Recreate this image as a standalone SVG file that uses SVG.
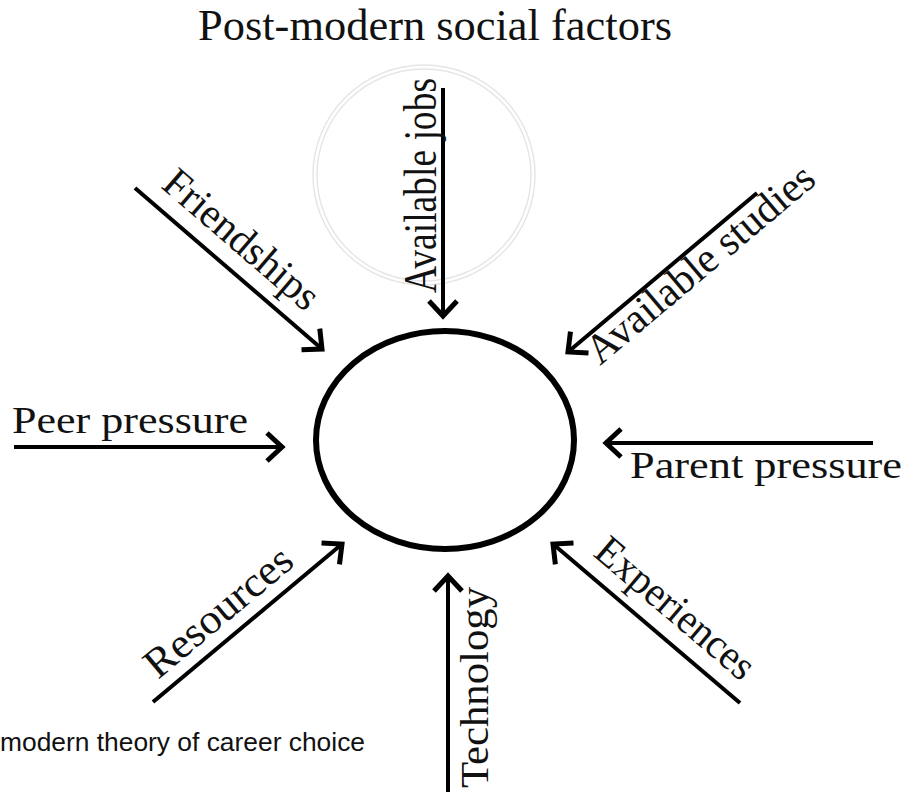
<svg xmlns="http://www.w3.org/2000/svg" width="907" height="792" viewBox="0 0 907 792">
<style>
.lbl{font-family:"Liberation Serif","Times New Roman",serif;fill:#111;}
.cap{font-family:"Liberation Sans",Arial,sans-serif;fill:#111;}
.con{stroke:#000;stroke-width:4;fill:none;marker-end:url(#chev);}
</style>
<defs>
<marker id="chev" markerUnits="userSpaceOnUse" viewBox="-24 -20 30 40" refX="0" refY="0" markerWidth="30" markerHeight="40" orient="auto" overflow="visible">
<path d="M-15,-14 L0,0 L-15,14" fill="none" stroke="#000" stroke-width="5" stroke-linejoin="miter"/>
</marker>
</defs>
<rect width="907" height="792" fill="#fff"/>
<g id="title"><text class="lbl" x="198" y="40" font-size="45" textLength="474" lengthAdjust="spacingAndGlyphs">Post-modern social factors</text></g>
<g id="faint-circle" fill="none" stroke="#e6e6e6" stroke-width="1.5">
<ellipse cx="424" cy="175" rx="111" ry="110"/>
<ellipse cx="424" cy="175" rx="107" ry="106"/>
</g>
<g id="center"><ellipse cx="445" cy="440" rx="129" ry="109" fill="none" stroke="#000" stroke-width="6"/></g>
<g id="connectors">
<line class="con" x1="443" y1="88" x2="443" y2="316"/>
<line class="con" x1="135" y1="188" x2="322" y2="349"/>
<line class="con" x1="757" y1="193" x2="568" y2="352"/>
<line class="con" x1="14" y1="447" x2="282" y2="447"/>
<line class="con" x1="873" y1="443" x2="606" y2="443"/>
<line class="con" x1="153" y1="702" x2="342" y2="544"/>
<line class="con" x1="740" y1="703" x2="553" y2="544"/>
<line class="con" x1="448" y1="800" x2="448" y2="576"/>
</g>
<g id="n-jobs"><text class="lbl" font-size="46" transform="translate(436,293) rotate(-90)" textLength="215" lengthAdjust="spacingAndGlyphs">Available jobs</text></g>
<g id="n-friend"><text class="lbl" font-size="42" transform="translate(160,187) rotate(40.75)" textLength="192" lengthAdjust="spacingAndGlyphs">Friendships</text></g>
<g id="n-studies"><text class="lbl" font-size="42" transform="translate(600,366) rotate(-40.1)" textLength="285" lengthAdjust="spacingAndGlyphs">Available studies</text></g>
<g id="n-peer"><text class="lbl" x="12" y="433" font-size="38" textLength="236" lengthAdjust="spacingAndGlyphs">Peer pressure</text></g>
<g id="n-parent"><text class="lbl" x="630" y="478" font-size="37" textLength="272" lengthAdjust="spacingAndGlyphs">Parent pressure</text></g>
<g id="n-res"><text class="lbl" font-size="42" transform="translate(158,680) rotate(-39.9)" textLength="180" lengthAdjust="spacingAndGlyphs">Resources</text></g>
<g id="n-exp"><text class="lbl" font-size="42" transform="translate(592,555) rotate(40.4)" textLength="196" lengthAdjust="spacingAndGlyphs">Experiences</text></g>
<g id="n-tech"><text class="lbl" font-size="41" transform="translate(488,788) rotate(-90)" textLength="201" lengthAdjust="spacingAndGlyphs">Technology</text></g>
<g id="caption"><text class="cap" x="0" y="751" font-size="25" textLength="365" lengthAdjust="spacingAndGlyphs">modern theory of career choice</text></g>
</svg>
